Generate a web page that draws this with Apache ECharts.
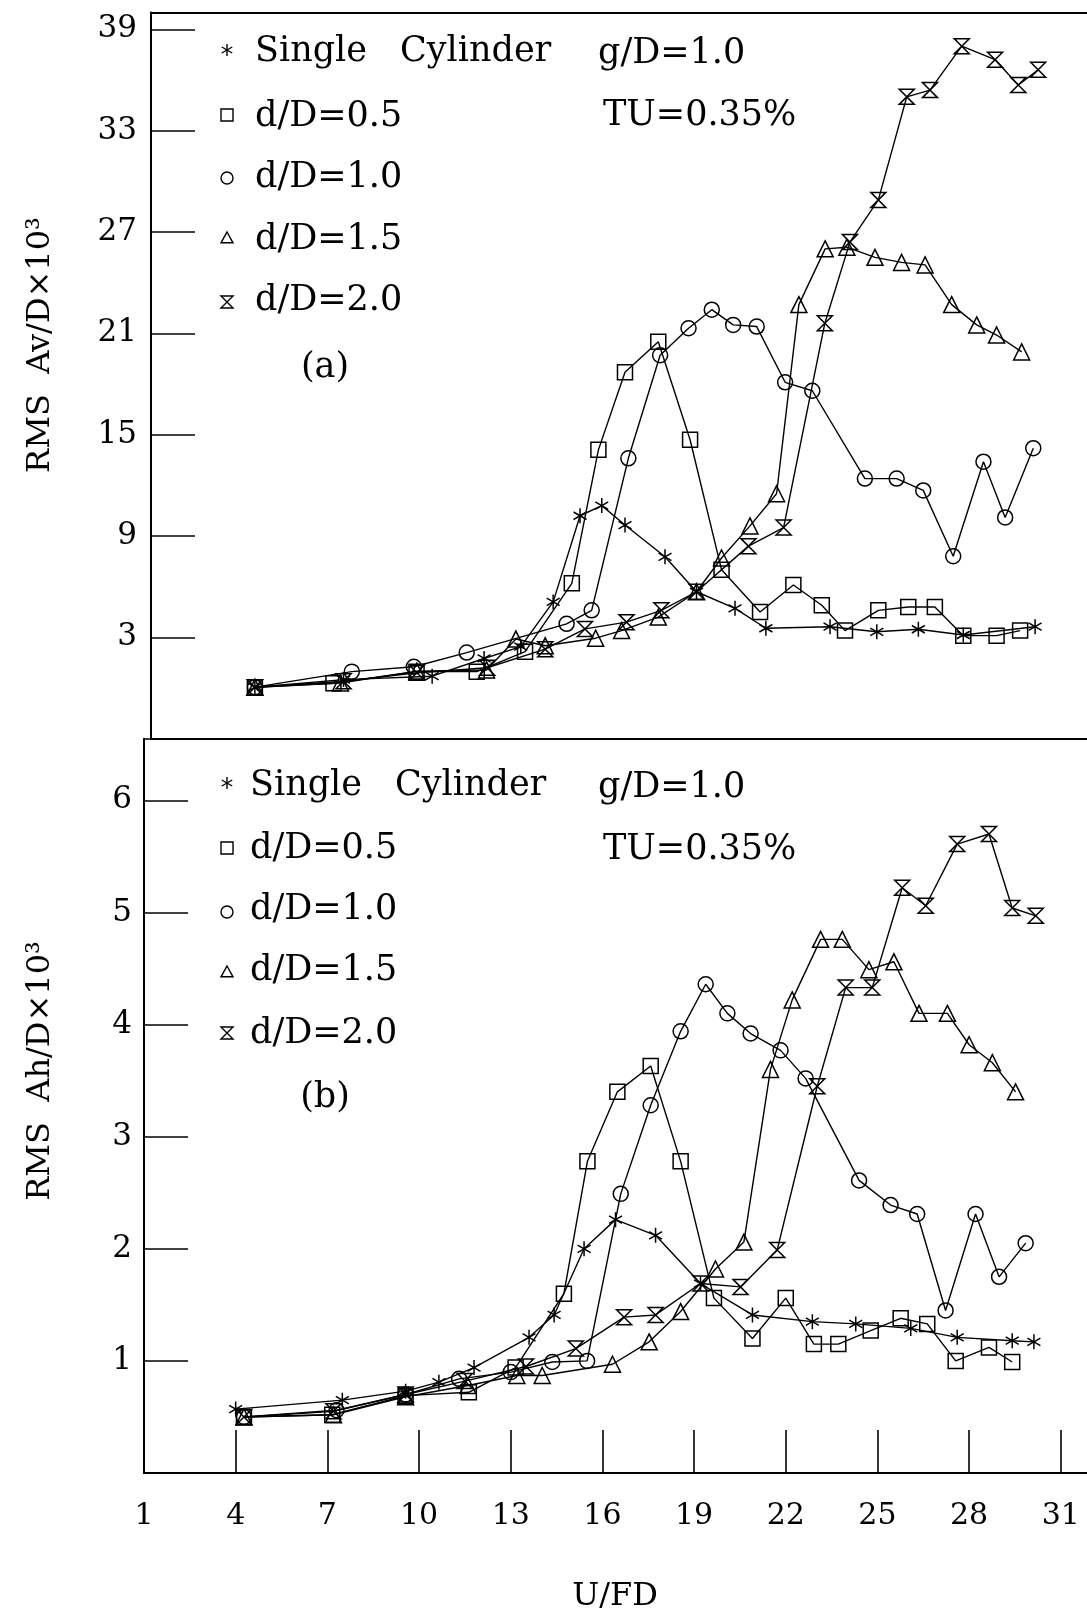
<!DOCTYPE html>
<html><head><meta charset="utf-8">
<script src="https://cdn.jsdelivr.net/npm/echarts/dist/echarts.min.js"></script>
<style>html,body{margin:0;padding:0;background:#fff}#c{width:1087px;height:1615px}</style>
</head><body><div id="c"></div>
<script>
// ---- data (x = U/FD, y = value) ----
const xTicksLabels = [1,4,7,10,13,16,19,22,25,28,31];
const topTickLabels = [3,9,15,21,27,33,39];
const botTickLabels = [1,2,3,4,5,6];

const topSingle = [[4.4,0.05],[7.3,0.5],[10.2,0.7],[11.9,1.75],[13.1,2.45],[14.16,5.1],[15.04,10.2],[15.75,10.8],[16.51,9.65],[17.82,7.77],[18.85,5.7],[20.11,4.72],[21.12,3.54],[23.22,3.63],[24.75,3.33],[26.11,3.48],[27.58,3.14],[29.93,3.63]];
const topSq = [[4.4,0.05],[6.97,0.28],[9.69,0.97],[11.66,0.97],[13.24,2.15],[14.77,6.2],[15.64,14.1],[16.51,18.7],[17.6,20.5],[18.64,14.7],[19.67,7.0],[20.93,4.5],[22.02,6.1],[22.95,4.9],[23.71,3.4],[24.8,4.6],[25.78,4.8],[26.65,4.8],[27.58,3.1],[28.67,3.1],[29.44,3.4]];
const topCirc = [[4.4,0.05],[7.57,0.97],[9.6,1.26],[11.33,2.1],[14.6,3.8],[15.42,4.6],[16.62,13.6],[17.66,19.7],[18.59,21.3],[19.35,22.4],[20.05,21.5],[20.82,21.4],[21.75,18.1],[22.64,17.6],[24.36,12.4],[25.4,12.4],[26.27,11.7],[27.25,7.8],[28.24,13.4],[28.95,10.1],[29.87,14.2]];
const topTri = [[4.4,0.05],[7.2,0.3],[9.7,1.0],[11.98,1.07],[12.94,2.9],[13.9,2.5],[15.55,2.95],[16.4,3.4],[17.6,4.2],[18.85,5.7],[19.67,7.7],[20.6,9.6],[21.47,11.5],[22.2,22.7],[23.06,26.0],[23.77,26.1],[24.69,25.5],[25.56,25.2],[26.33,25.05],[27.2,22.7],[28.02,21.5],[28.67,20.9],[29.49,19.9]];
const topHg = [[4.4,0.05],[7.3,0.4],[9.7,0.9],[12.0,1.2],[13.9,2.3],[15.2,3.5],[16.56,3.9],[17.7,4.6],[18.85,5.7],[20.55,8.4],[21.7,9.5],[23.05,21.6],[23.87,26.4],[24.8,28.9],[25.73,35.0],[26.49,35.4],[27.53,38.0],[28.62,37.2],[29.38,35.7],[30.03,36.6]];

const botSingle = [[4.0,0.57],[7.49,0.65],[9.56,0.73],[10.65,0.81],[11.8,0.94],[13.6,1.21],[14.42,1.41],[15.4,2.0],[16.43,2.26],[17.74,2.12],[19.21,1.69],[20.91,1.41],[22.87,1.35],[24.29,1.33],[26.09,1.29],[27.61,1.21],[29.41,1.18],[30.12,1.17]];
const botSq = [[4.27,0.5],[7.16,0.52],[9.56,0.69],[11.63,0.72],[13.16,0.94],[14.74,1.6],[15.51,2.78],[16.49,3.4],[17.58,3.63],[18.56,2.78],[19.65,1.56],[20.91,1.2],[22.0,1.56],[22.92,1.15],[23.72,1.15],[24.78,1.27],[25.76,1.38],[26.63,1.33],[27.56,1.0],[28.65,1.12],[29.41,0.99]];
const botCirc = [[4.27,0.5],[7.3,0.56],[9.56,0.7],[11.31,0.84],[13.0,0.9],[14.36,0.99],[15.5,1.0],[16.6,2.49],[17.58,3.28],[18.56,3.94],[19.38,4.36],[20.09,4.1],[20.85,3.92],[21.83,3.77],[22.65,3.52],[24.4,2.61],[25.43,2.39],[26.3,2.31],[27.23,1.45],[28.21,2.31],[28.98,1.75],[29.85,2.05]];
const botTri = [[4.27,0.5],[7.2,0.52],[9.56,0.68],[11.6,0.78],[13.2,0.87],[14.03,0.87],[16.33,0.97],[17.53,1.17],[18.56,1.44],[19.7,1.82],[20.63,2.06],[21.5,3.6],[22.21,4.22],[23.14,4.76],[23.85,4.76],[24.72,4.49],[25.54,4.56],[26.36,4.1],[27.29,4.1],[28.0,3.82],[28.76,3.66],[29.52,3.4]];
const botHg = [[4.27,0.5],[7.2,0.55],[9.56,0.7],[11.5,0.82],[13.5,0.95],[15.13,1.11],[16.71,1.39],[17.74,1.41],[19.21,1.69],[20.52,1.66],[21.72,1.99],[23.03,3.45],[23.96,4.33],[24.83,4.33],[25.81,5.22],[26.58,5.06],[27.61,5.61],[28.65,5.7],[29.41,5.04],[30.18,4.97]];

const legendNames = ['Single  Cylinder','d/D=0.5','d/D=1.0','d/D=1.5','d/D=2.0'];

// ---- rendering ----
const SERIF = '"DejaVu Serif","Liberation Serif",serif';
const STAR = 'path://M5 0L5 10M0.67 2.5L9.33 7.5M0.67 7.5L9.33 2.5';
const HG = 'path://M0 0L10 0L0 10L10 10Z';
const symbols = [STAR, 'rect', 'circle', 'triangle', HG];
const sizes = [15, 15, 15, 16, 15];
const PX = 30.56; // pixels per x unit

function mk(data, k, xi, yi) {
  return {
    type: 'line', data: data, xAxisIndex: xi, yAxisIndex: yi,
    symbol: symbols[k], symbolSize: sizes[k], symbolKeepAspect: true, showSymbol: true,
    lineStyle: {color: '#000', width: 1.4},
    itemStyle: {color: 'rgba(0,0,0,0)', borderColor: '#000', borderWidth: 1.5},
    emphasis: {disabled: true}, silent: true, animation: false, clip: false
  };
}

const axLine = {show: true, onZero: false, lineStyle: {color: '#000', width: 2}};
const labFont = {color: '#000', fontFamily: SERIF};

function txt(x, y, s, size, align) {
  return {type: 'text', x: x, y: y, silent: true,
    style: {text: s, font: size + 'px ' + SERIF, fill: '#000', textAlign: align || 'left', textVerticalAlign: 'middle'}};
}
function legSym(k, cx, cy) {
  const r = 6, st = {fill: 'none', stroke: '#000', lineWidth: 1.4};
  if (k === 0) {
    const els = [];
    for (let a = 0; a < 3; a++) {
      const t = Math.PI / 2 + a * Math.PI / 3;
      els.push({type: 'line', silent: true, shape: {x1: cx - r * Math.cos(t), y1: cy - r * Math.sin(t), x2: cx + r * Math.cos(t), y2: cy + r * Math.sin(t)}, style: {stroke: '#000', lineWidth: 1.4}});
    }
    return els;
  }
  if (k === 1) return [{type: 'rect', silent: true, shape: {x: cx - r, y: cy - r, width: 2 * r, height: 2 * r}, style: st}];
  if (k === 2) return [{type: 'circle', silent: true, shape: {cx: cx, cy: cy, r: r}, style: st}];
  if (k === 3) return [{type: 'polygon', silent: true, shape: {points: [[cx, cy - r], [cx + r, cy + r * 0.8], [cx - r, cy + r * 0.8]]}, style: st}];
  return [{type: 'polygon', silent: true, shape: {points: [[cx - r, cy - r], [cx + r, cy - r], [cx - r, cy + r], [cx + r, cy + r]]}, style: st}];
}

const graphics = [];
function legendBlock(symX, textX, symYs, textYs, tag, tagY, gY, tuY) {
  for (let k = 0; k < 5; k++) {
    legSym(k, symX, symYs[k]).forEach(e => graphics.push(e));
  }
  graphics.push(txt(textX, textYs[0], 'Single', 35));
  graphics.push(txt(textX + 145, textYs[0], 'Cylinder', 35));
  for (let k = 1; k < 5; k++) graphics.push(txt(textX, textYs[k], legendNames[k], 35));
  graphics.push(txt(325, tagY, tag, 35, 'center'));
  graphics.push(txt(598, gY, 'g/D=1.0', 35));
  graphics.push(txt(603, tuY, 'TU=0.35%', 35));
}
legendBlock(227, 255, [50,115,178,238,302], [52,117,178,240,301], '(a)', 368, 54, 116);
legendBlock(227, 250, [783,848,912,972,1033], [786,849,910,971,1034], '(b)', 1098, 788, 850);
graphics.push({type: 'text', x: 41, y: 345, rotation: Math.PI / 2, silent: true,
  style: {text: 'RMS  Av/D×10³', font: '32px ' + SERIF, fill: '#000', textAlign: 'center', textVerticalAlign: 'middle'}});
graphics.push({type: 'text', x: 41, y: 1071, rotation: Math.PI / 2, silent: true,
  style: {text: 'RMS  Ah/D×10³', font: '32px ' + SERIF, fill: '#000', textAlign: 'center', textVerticalAlign: 'middle'}});
graphics.push(txt(615, 1597, 'U/FD', 32, 'center'));

const topLeft = 151, topW = 1087 - 151;
const botLeft = 144, botW = 30 * PX;        // bottom axis ends at x = 31
const botTop = 738.7, botH = 734.3;
// continuation of the bottom axis line to the right edge (no ticks there)
graphics.push({type: 'line', silent: true, shape: {x1: botLeft + botW, y1: botTop + botH, x2: 1087, y2: botTop + botH},
  style: {stroke: '#000', lineWidth: 2}});

const option = {
  backgroundColor: '#fff',
  animation: false,
  grid: [
    {left: topLeft, top: 12.4, width: topW, height: 726.3},
    {left: botLeft, top: botTop, width: botW, height: botH}
  ],
  xAxis: [
    {type: 'value', gridIndex: 0, position: 'bottom', min: 1, max: 1 + topW / PX,
      axisLine: axLine, axisTick: {show: false}, axisLabel: {show: false}, splitLine: {show: false}},
    {type: 'value', gridIndex: 0, position: 'top', min: 1, max: 1 + topW / PX,
      axisLine: axLine, axisTick: {show: false}, axisLabel: {show: false}, splitLine: {show: false}},
    {type: 'value', gridIndex: 1, position: 'bottom', min: 1, max: 31, interval: 3,
      axisLine: axLine, splitLine: {show: false},
      axisTick: {show: true, inside: true, length: 43, lineStyle: {color: '#000', width: 1.6}},
      axisLabel: Object.assign({margin: 28, fontSize: 30,
        formatter: v => xTicksLabels.some(t => Math.abs(t - v) < 1e-6) ? String(Math.round(v)) : ''}, labFont)}
  ],
  yAxis: [
    {type: 'value', gridIndex: 0, min: -3, max: 40, interval: 6,
      axisLine: axLine, splitLine: {show: false},
      axisTick: {show: true, inside: true, length: 44, lineStyle: {color: '#000', width: 1.6}},
      axisLabel: Object.assign({margin: 14, fontSize: 31,
        formatter: v => topTickLabels.some(t => Math.abs(t - v) < 1e-6) ? String(Math.round(v)) : ''}, labFont)},
    {type: 'value', gridIndex: 1, min: 0, max: 6.55, interval: 1,
      axisLine: axLine, splitLine: {show: false},
      axisTick: {show: true, inside: true, length: 44, lineStyle: {color: '#000', width: 1.6}},
      axisLabel: Object.assign({margin: 12, fontSize: 31,
        formatter: v => botTickLabels.some(t => Math.abs(t - v) < 1e-6) ? String(Math.round(v)) : ''}, labFont)}
  ],
  series: [
    mk(topSingle, 0, 0, 0), mk(topSq, 1, 0, 0), mk(topCirc, 2, 0, 0), mk(topTri, 3, 0, 0), mk(topHg, 4, 0, 0),
    mk(botSingle, 0, 2, 1), mk(botSq, 1, 2, 1), mk(botCirc, 2, 2, 1), mk(botTri, 3, 2, 1), mk(botHg, 4, 2, 1)
  ],
  graphic: graphics
};
const chart = echarts.init(document.getElementById('c'), null, {renderer: 'canvas'});
chart.setOption(option);
</script></body></html>
